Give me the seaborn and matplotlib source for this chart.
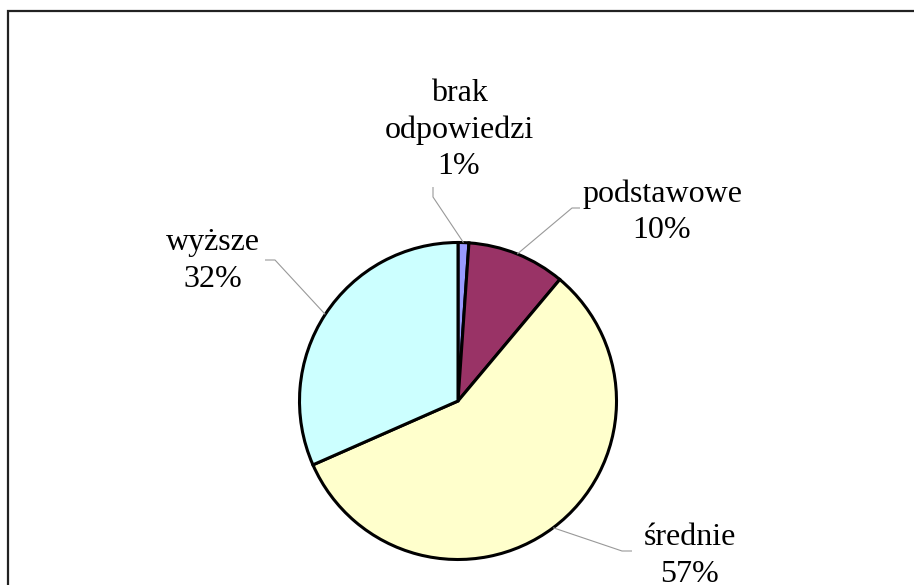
import matplotlib
matplotlib.use("Agg")
import matplotlib.pyplot as plt
import seaborn as sns
import numpy as np
from matplotlib.patches import Rectangle

# Data
categories = ['brak\nodpowiedzi', 'podstawowe', 'średnie', 'wyższe']
shares = [1.1, 10.0, 57.3, 31.6]
colors = ['#9999FF', '#993366', '#FFFFCC', '#CCFFFF']

sns.set_theme(style='white')
plt.rcParams['font.family'] = ['Liberation Serif', 'DejaVu Serif']

W, H = 914, 585
fig = plt.figure(figsize=(W / 100, H / 100), dpi=100)
ax = fig.add_axes([0, 0, 1, 1])

cx, cy, r = 458, H - 401, 158.5
wedges, _ = ax.pie(shares, colors=colors, startangle=90, counterclock=False,
                   center=(cx, cy), radius=r,
                   wedgeprops={'edgecolor': 'black', 'linewidth': 2.2})
ax.set_xlim(0, W)
ax.set_ylim(0, H)
ax.axis('off')

# label layout in px relative to pie centre: text centre, leader elbow, leader end
layout = [
    ((1, 271), (-25, 204), (-25, 214)),
    ((204, 189), (114, 193), (122, 193)),
    ((232, -155), (164, -150), (174, -150)),
    ((-245, 140), (-183, 141), (-193, 141)),
]

for w, cat, val, (txt, elbow, end) in zip(wedges, categories, shares, layout):
    mid = np.deg2rad((w.theta1 + w.theta2) / 2)
    sx, sy = cx + r * np.cos(mid), cy + r * np.sin(mid)
    ax.plot([sx, cx + elbow[0], cx + end[0]], [sy, cy + elbow[1], cy + end[1]],
            color='#999999', lw=0.8, solid_capstyle='butt')
    ax.text(cx + txt[0], cy + txt[1], f'{cat}\n{val:.0f}%', ha='center', va='center',
            fontsize=23, color='black', linespacing=1.33)

# chart area border (only left and top edges fall inside the picture)
fig.add_artist(Rectangle((8 / W, -0.5), 2, 0.5 + (H - 11) / H, transform=fig.transFigure,
                         fill=False, ec='#222222', lw=1.6))

fig.savefig('out.png', dpi=100)
